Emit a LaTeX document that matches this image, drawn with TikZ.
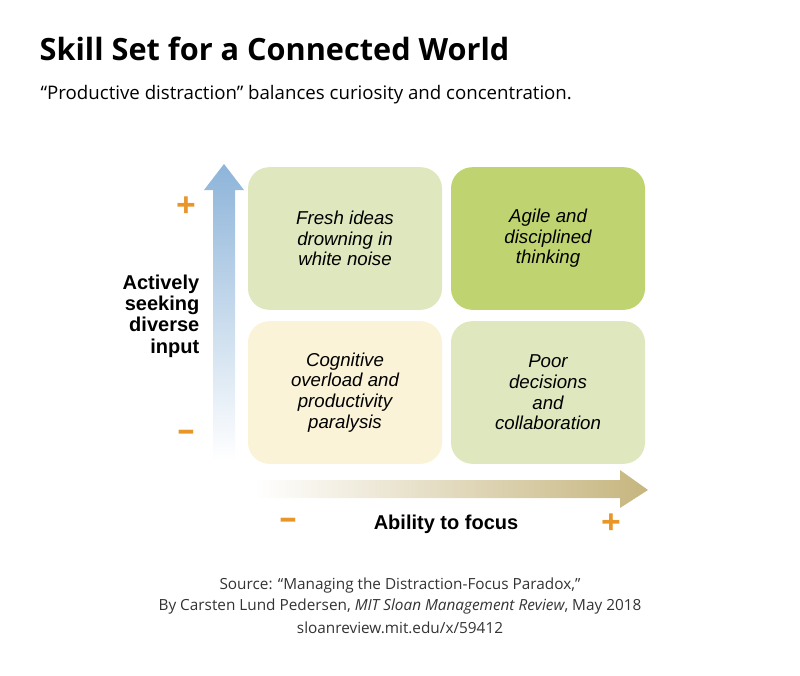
\documentclass[tikz,border=0pt]{standalone}
\usepackage{fontspec}
\setmainfont{Open Sans}
\newfontfamily\boxfont{Liberation Sans}
\usetikzlibrary{positioning}
\definecolor{paleGreen}{HTML}{DFE7BE}
\definecolor{strongGreen}{HTML}{BFD370}
\definecolor{paleCream}{HTML}{FBF3D7}
\definecolor{axisBlue}{HTML}{8DB4D9}
\definecolor{axisTan}{HTML}{C6B57E}
\definecolor{signOrange}{HTML}{E8952A}
\tikzset{
  cell/.style={rounded corners=16pt,minimum width=145.5pt,minimum height=107pt,
    font=\boxfont\itshape\fontsize{14}{15.5}\selectfont,align=center},
  sign/.style={text=signOrange,font=\fontsize{26}{26}\selectfont\bfseries},
  axislabel/.style={font=\boxfont\bfseries\fontsize{15}{16}\selectfont,align=right},
  src/.style={font=\fontsize{11.5}{14}\selectfont,text=black!80}
}
\begin{document}
\begin{tikzpicture}[x=0.75pt,y=-0.75pt]
\useasboundingbox (0,0) rectangle (800,675);
% title
\node[anchor=base west,font=\bfseries\fontsize{23}{26}\selectfont] (title) at (35,60) {Skill Set for a Connected World};
\node[anchor=base west,font=\fontsize{14}{16}\selectfont] (subtitle) at (36,99) {“Productive distraction” balances curiosity and concentration.};
% quadrants
\node[cell,fill=paleGreen] (tl) at (345,238.5) {Fresh ideas\\drowning in\\white noise};
\node[cell,fill=strongGreen] (tr) at (548,238.5) {Agile and\\disciplined\\thinking};
\node[cell,fill=paleCream] (bl) at (345,392.5) {Cognitive\\overload and\\productivity\\paralysis};
\node[cell,fill=paleGreen] (br) at (548,392.5) {Poor\\decisions\\and\\collaboration};
% axes
\shade[top color=axisBlue,bottom color=white] (213,460) -- (213,190) -- (204,190) -- (224,164) -- (244,190) -- (235,190) -- (235,460) -- cycle;
\shade[left color=white,right color=axisTan] (255,480) -- (620,480) -- (620,470) -- (648,490) -- (620,508) -- (620,498) -- (255,498) -- cycle;
% signs
\node[sign] (yplus) at (186,207) {+};
\node[sign] (yminus) at (186,436) {–};
\node[sign] (xminus) at (288,524) {–};
\node[sign] (xplus) at (611,524) {+};
% axis labels
\node[axislabel,anchor=east] (ylab) at (204,316) {Actively\\seeking\\diverse\\input};
\node[font=\boxfont\bfseries\fontsize{15}{16}\selectfont] (xlab) at (446,524) {Ability to focus};
% source
\node[src] (src1) at (400,586) {Source: “Managing the Distraction-Focus Paradox,”};
\node[src] (src2) at (400,607) {By Carsten Lund Pedersen, \textit{MIT Sloan Management Review}, May 2018};
\node[src] (src3) at (400,628) {sloanreview.mit.edu/x/59412};
\end{tikzpicture}
\end{document}
